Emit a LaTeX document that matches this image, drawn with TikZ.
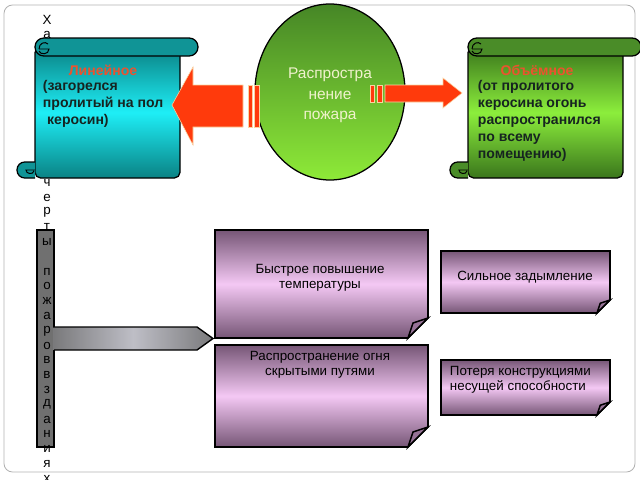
\documentclass[tikz,border=0pt]{standalone}
\usepackage{fontspec}
\setmainfont{Liberation Sans}
\usepackage{tikz}
\usetikzlibrary{calc}
\tikzset{every node/.append style={align=center}}
\definecolor{tealdark}{RGB}{10,130,132}
\definecolor{tealbright}{RGB}{30,238,246}
\definecolor{tealroll}{RGB}{16,148,150}
\definecolor{greendark}{RGB}{58,118,28}
\definecolor{greenbright}{RGB}{140,238,60}
\definecolor{greenroll}{RGB}{74,140,40}
\definecolor{ovaltop}{RGB}{70,134,38}
\definecolor{ovalbottom}{RGB}{142,234,56}
\definecolor{ovalink}{RGB}{240,242,205}
\definecolor{firered}{RGB}{255,58,12}
\definecolor{fireedge}{RGB}{250,212,160}
\definecolor{mauvedark}{RGB}{118,86,118}
\definecolor{mauvelight}{RGB}{244,200,244}
\definecolor{bargray}{RGB}{112,112,112}
\definecolor{pointerdark}{RGB}{122,122,124}
\definecolor{pointerlight}{RGB}{190,190,198}
\definecolor{titlered}{RGB}{236,82,46}
\definecolor{textdark}{RGB}{22,36,32}

% scroll: left x, right x, dark colour, bright colour, roll colour
\newcommand{\scrollshape}[5]{%
  \shade[draw, line width=0.9pt, top color=#3, bottom color=#3, middle color=#4, rounded corners=4pt]
    (#1,47) -- (#2,47) -- (#2,178) -- (#1,178) -- cycle;
  \filldraw[fill=#5, line width=0.9pt, rounded corners=5.5pt]
    (#1,162) -- (#1-18,162) -- (#1-18,178) -- (#1,178);
  \draw[line width=0.7pt] (#1,170) -- (#1-9,170) .. controls (#1-9,174) and (#1-2,175) .. (#1-1,171);
  \filldraw[fill=#5, line width=0.9pt, rounded corners=6.3pt] (#1,38) rectangle (#2+18,56);
  \draw[line width=0.7pt] (#1+4,49) -- (#1+14,49) .. controls (#1+14,55) and (#1+5,55) .. (#1+4,51);
  \draw[line width=0.7pt] (#1+4,49) .. controls (#1+4,43) and (#1+10,41) .. (#1+13,44);
}

\begin{document}
\begin{tikzpicture}[
    x=0.025cm, y=-0.025cm,
    vletter/.style={font=\fontsize{9.5}{10}\selectfont, inner sep=0pt},
    scrolltitle/.style={font=\bfseries\fontsize{10}{12}\selectfont, text=titlered},
    scrolltext/.style={font=\bfseries\fontsize{10}{12.05}\selectfont, text=textdark, align=left, anchor=west},
    ovaltext/.style={font=\fontsize{11}{14.5}\selectfont, text=ovalink},
    notetext/.style={font=\fontsize{9.5}{10.6}\selectfont},
    notebox/.style={draw, line width=1.1pt, top color=mauvedark, bottom color=mauvedark, middle color=mauvelight},
    fold/.style={draw, line width=1.1pt, fill=mauvedark!75!mauvelight},
    bigarrow/.style={fill=firered, draw=fireedge, line width=0.4pt},
    arrowbar/.style={fill=firered, draw=fireedge, line width=0.6pt}
]
    \useasboundingbox (0,0) rectangle (640,480);

    % Frame
    \draw[gray!60, line width=0.6pt, rounded corners=6pt] (4,5) rectangle (635,472);

    % Bar and pointer
    \filldraw[fill=bargray, line width=1pt] (37,230) rectangle (54,447);
    \shade[left color=pointerdark, right color=pointerdark, middle color=pointerlight]
        (53.5,327) -- (197,327) -- (213,338.5) -- (197,350) -- (53.5,350) -- cycle;
    \draw[line width=1pt] (54,327) -- (197,327) -- (213,338.5) -- (197,350) -- (54,350);

    % Vertical title (the letters behind the scroll are not shown)
    \foreach \ch/\i in {Х/0,а/1,ч/11,е/12,р/13,т/14,ы/15,п/17,о/18,ж/19,а/20,р/21,о/22,в/23,в/24,з/25,д/26,а/27,н/28,и/29,я/30,х/31}
        \node[vletter] (v\i) at (47,20+14.8*\i) {\ch};

    % Scrolls
    \scrollshape{35}{180}{tealdark}{tealbright}{tealroll}
    \scrollshape{468}{623}{greendark}{greenbright}{greenroll}

    % Oval
    \shade[draw, line width=0.9pt, top color=ovaltop, bottom color=ovalbottom] (330,92) ellipse [x radius=75, y radius=88];

    % Arrows
    \filldraw[bigarrow] (172,105) -- (193,67) -- (193,85) -- (243,85) -- (243,127) -- (193,127) -- (193,145) -- cycle;
    \filldraw[arrowbar] (248,85) rectangle (252,127);
    \filldraw[arrowbar] (254,85) rectangle (259,127);
    \filldraw[arrowbar] (370,85) rectangle (374,102);
    \filldraw[arrowbar] (377,85) rectangle (382,102);
    \filldraw[bigarrow] (385,85) -- (443,85) -- (443,78) -- (462,93) -- (443,108) -- (443,102) -- (385,102) -- cycle;

    % Notes
    \foreach \xa/\ya/\xb/\yb/\f in {215/230/428/338/20, 215/345/428/447/20, 441/251/610/313/13, 441/360/610/415/13} {
        \shade[notebox] (\xa,\ya) -- (\xb,\ya) -- (\xb,\yb-\f) -- (\xb-\f,\yb) -- (\xa,\yb) -- cycle;
        \filldraw[fold] (\xb-\f,\yb) -- (\xb-0.75*\f,\yb-0.75*\f) -- (\xb,\yb-\f) -- cycle;
    }

    % Texts
    \node[scrolltitle] (lintitle) at (103,70) {Линейное};
    \node[scrolltext] (lintext) at (38,104) {(загорелся\\пролитый на пол\\\hspace{0.3em}керосин)};
    \node[scrolltitle] (voltitle) at (537,70) {Объёмное};
    \node[scrolltext] (voltext) at (473,121) {(от пролитого\\керосина огонь\\распространился\\по всему\\помещению)};
    \node[ovaltext] (spread) at (330,95.5) {Распростра\\нение\\пожара};
    \node[notetext] (heat) at (320,277.5) {Быстрое повышение\\температуры};
    \node[notetext] (hidden) at (320,364.5) {Распространение огня\\скрытыми путями};
    \node[notetext] (smoke) at (525,277) {Сильное задымление};
    \node[notetext, align=left, anchor=west] (loss) at (445,379.5) {Потеря конструкциями\\несущей способности};
\end{tikzpicture}
\end{document}
